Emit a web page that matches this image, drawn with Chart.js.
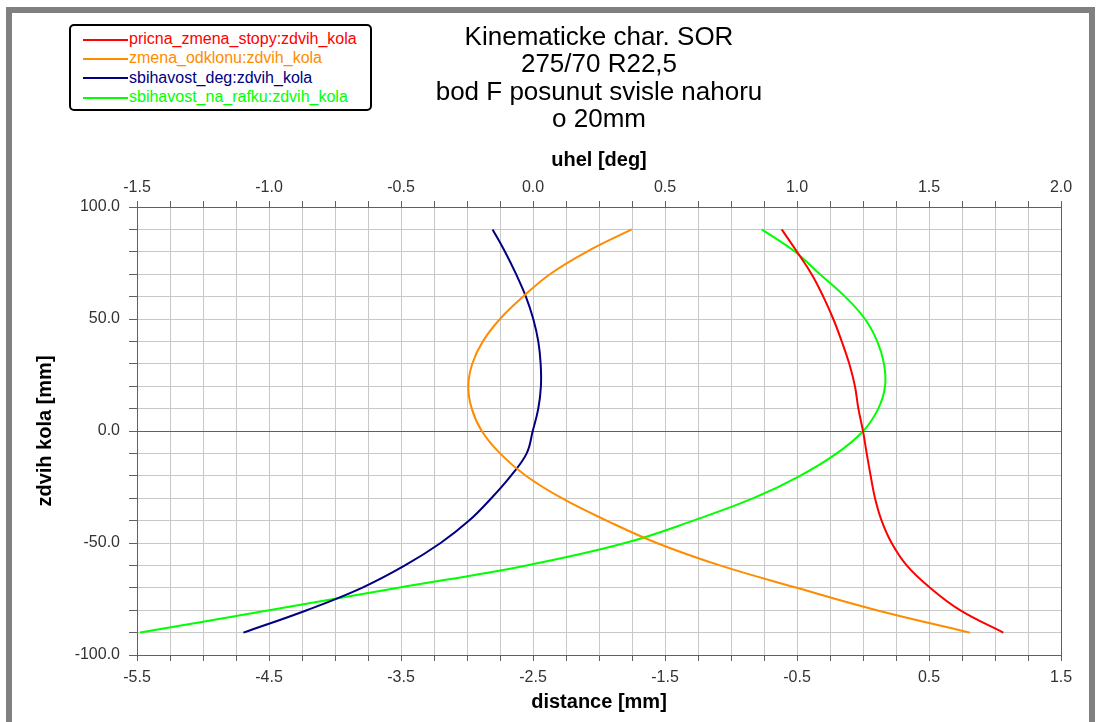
<!DOCTYPE html>
<html>
<head>
<meta charset="utf-8">
<script src="https://cdn.jsdelivr.net/npm/chart.js@4/dist/chart.umd.min.js"></script>
<style>
    body { margin: 0; background: #fff; }
    #frame {
        position: absolute; left: 6px; top: 7px; width: 1077px; height: 740px;
        border: 6px solid #808080;
    }
    #chart { position: absolute; left: 0; top: 0; }
    #title {
        position: absolute; left: 347px; top: 23px; width: 500px; text-align: center;
        font: 26px Arial, "Liberation Sans", sans-serif; line-height: 27.3px; color: #000;
    }
    #legend {
        position: absolute; left: 69px; top: 24px; width: 299px; height: 80px;
        border: 2px solid #000; border-radius: 5px; background: #fff;
        font: 16px Arial, "Liberation Sans", sans-serif; padding-top: 3px; box-sizing: content-box;
    }
    #legend div { height: 19.3px; line-height: 19.3px; white-space: nowrap; }
    #legend span.ln { display: inline-block; width: 45px; height: 2px; margin: 0 1px 0 12px; vertical-align: middle; }
</style>
</head>
<body>
<div id="frame"></div>
<canvas id="chart" width="1099" height="722"></canvas>
<div id="title"></div>
<div id="legend"></div>
<script>
// zdvih kola [mm] - common vertical values
const zdvih = [90, 80, 70, 60, 50, 40, 30, 20, 10, 0, -10, -20, -30, -40, -50, -60, -70, -80, -90];

// distance [mm] (bottom axis)
const pricnaZmenaStopy = [-0.616, -0.500, -0.389, -0.301, -0.225, -0.161, -0.104, -0.061, -0.035, 0.000,
    0.028, 0.058, 0.091, 0.141, 0.217, 0.331, 0.508, 0.735, 1.063];
const sbihavostNaRafku = [-0.767, -0.515, -0.326, -0.136, 0.015, 0.108, 0.159, 0.167, 0.116, 0.002,
    -0.199, -0.477, -0.831, -1.286, -1.803, -2.55, -3.52, -4.50, -5.477];

// uhel [deg] (top axis)
const zmenaOdklonu = [0.374, 0.203, 0.064, -0.037, -0.125, -0.190, -0.230, -0.245, -0.232, -0.194,
    -0.125, -0.027, 0.109, 0.279, 0.469, 0.708, 0.999, 1.302, 1.655];
const sbihavostDeg = [-0.153, -0.106, -0.064, -0.027, 0.001, 0.020, 0.029, 0.030, 0.020, -0.001,
    -0.024, -0.084, -0.158, -0.242, -0.350, -0.485, -0.648, -0.857, -1.097];

const seriesNames = ["pricna_zmena_stopy:zdvih_kola", "zmena_odklonu:zdvih_kola",
    "sbihavost_deg:zdvih_kola", "sbihavost_na_rafku:zdvih_kola"];
const seriesColors = ["#ff0000", "#ff8c00", "#000080", "#00ff00"];

const titleLines = ["Kinematicke char. SOR", "275/70 R22,5", "bod F posunut svisle nahoru", "o 20mm"];

const toPoints = (xs) => xs.map((v, i) => ({ x: v, y: zdvih[i] }));

const FONT = "Arial, 'Liberation Sans', sans-serif";
const DARK = "#606060";
const GRID = "#c8c8c8";

const makeDataset = (idx, values, axis) => ({
    label: seriesNames[idx],
    data: toPoints(values),
    xAxisID: axis,
    borderColor: seriesColors[idx],
    backgroundColor: seriesColors[idx],
    borderWidth: 2,
    pointRadius: 0,
    showLine: true,
    tension: 0.4
});

const ctx = document.getElementById("chart").getContext("2d");
const chart = new Chart(ctx, {
    type: "scatter",
    data: {
        datasets: [
            makeDataset(0, pricnaZmenaStopy, "x"),
            makeDataset(1, zmenaOdklonu, "x2"),
            makeDataset(2, sbihavostDeg, "x2"),
            makeDataset(3, sbihavostNaRafku, "x")
        ]
    },
    options: {
        responsive: false,
        animation: false,
        layout: { padding: { left: 0, right: 38, top: 122, bottom: 0 } },
        plugins: {
            legend: { display: false },
            tooltip: { enabled: false }
        },
        scales: {
            x: {
                type: "linear",
                position: "bottom",
                min: -5.5,
                max: 1.5,
                afterFit: (s) => { s.height = 67; },
                border: { color: DARK },
                grid: {
                    color: (c) => (c.tick && Math.abs(c.tick.value - 1.5) < 1e-6 ? DARK : GRID),
                    tickColor: DARK,
                    tickLength: 6
                },
                ticks: {
                    stepSize: 0.25,
                    autoSkip: false,
                    maxRotation: 0,
                    padding: 7,
                    color: "#333",
                    font: { family: FONT, size: 16 },
                    callback: (v) => (Math.abs((v + 5.5) % 1) < 1e-6 ? v.toFixed(1) : "")
                },
                title: {
                    display: true,
                    text: "distance [mm]",
                    color: "#000",
                    font: { family: FONT, size: 20, weight: "bold" },
                    padding: { top: 0, bottom: 8 }
                }
            },
            x2: {
                type: "linear",
                position: "top",
                min: -1.5,
                max: 2.0,
                afterFit: (s) => { s.height = 85; },
                border: { color: DARK },
                grid: { drawOnChartArea: false, tickColor: DARK, tickLength: 6 },
                ticks: {
                    stepSize: 0.125,
                    autoSkip: false,
                    maxRotation: 0,
                    padding: 4,
                    color: "#333",
                    font: { family: FONT, size: 16 },
                    callback: (v) => (Math.abs((v * 2) % 1) < 1e-6 ? v.toFixed(1) : "")
                },
                title: {
                    display: true,
                    text: "uhel [deg]",
                    color: "#000",
                    font: { family: FONT, size: 20, weight: "bold" },
                    padding: { top: 26, bottom: 0 }
                }
            },
            y: {
                type: "linear",
                position: "left",
                min: -100,
                max: 100,
                afterFit: (s) => { s.width = 137; },
                border: { color: DARK },
                grid: {
                    color: (c) => (c.tick && c.tick.value === 0 ? DARK : GRID),
                    tickColor: DARK,
                    tickLength: 8
                },
                ticks: {
                    stepSize: 10,
                    autoSkip: false,
                    padding: 9,
                    color: "#333",
                    font: { family: FONT, size: 16 },
                    callback: (v) => (v % 50 === 0 ? v.toFixed(1) : "")
                },
                title: {
                    display: true,
                    text: "zdvih kola [mm]",
                    color: "#000",
                    font: { family: FONT, size: 20, weight: "bold" },
                    padding: { top: 33, bottom: 0 }
                }
            }
        }
    }
});

// chart title, centred over the plot area
const titleEl = document.getElementById("title");
titleEl.innerHTML = titleLines.join("<br>");
const area = chart.chartArea;
titleEl.style.left = ((area.left + area.right) / 2 - 250) + "px";

// HTML legend built from the datasets
const legendEl = document.getElementById("legend");
chart.data.datasets.forEach((ds) => {
    const row = document.createElement("div");
    row.style.color = ds.borderColor;
    row.innerHTML = '<span class="ln" style="background:' + ds.borderColor + '"></span>' + ds.label;
    legendEl.appendChild(row);
});
</script>
</body>
</html>
